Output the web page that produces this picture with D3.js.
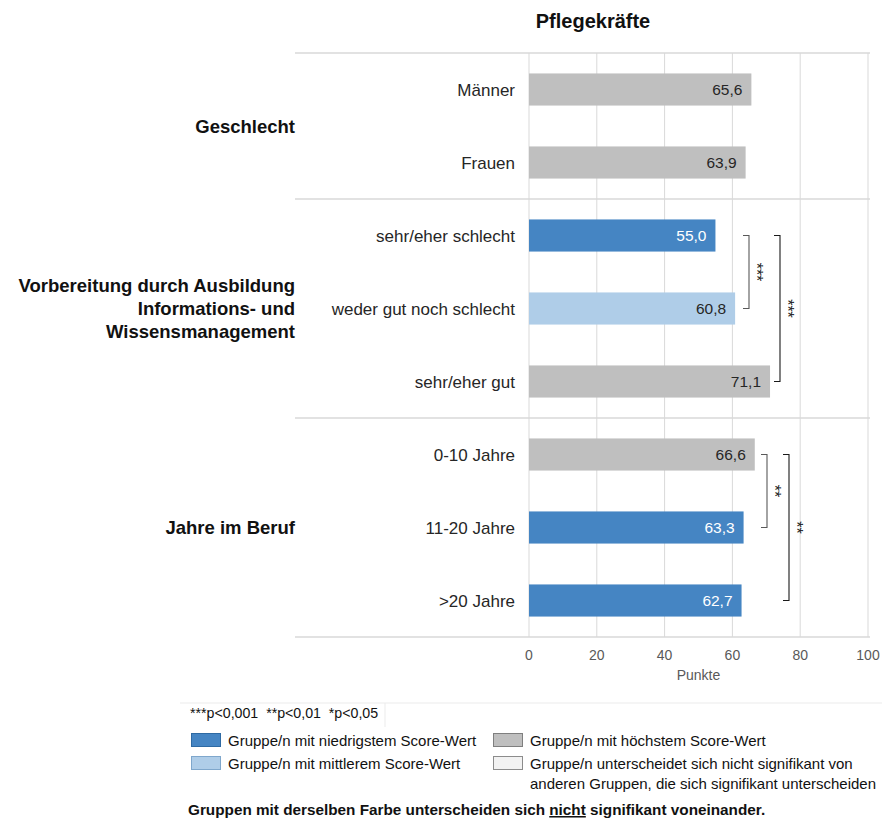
<!DOCTYPE html>
<html>
<head>
<meta charset="utf-8">
<script src="https://cdn.jsdelivr.net/npm/d3@7"></script>
<style>
  html, body { margin: 0; padding: 0; background: #fff; }
  svg { display: block; font-family: "Liberation Sans", Arial, sans-serif; }
  .pre { white-space: pre; }
</style>
</head>
<body>
<svg id="chart" width="882" height="823"></svg>
<script>
// ---- data ----
const title = "Pflegekräfte";
const categories = ["Männer", "Frauen", "sehr/eher schlecht", "weder gut noch schlecht",
                    "sehr/eher gut", "0-10 Jahre", "11-20 Jahre", ">20 Jahre"];
const values = [65.6, 63.9, 55.0, 60.8, 71.1, 66.6, 63.3, 62.7];
// colour class of each bar: low = lowest score group, mid = middle, high = highest
const classes = ["high", "high", "low", "mid", "high", "high", "low", "low"];
const groupLabels = [
  ["Geschlecht"],
  ["Vorbereitung durch Ausbildung", "Informations- und", "Wissensmanagement"],
  ["Jahre im Beruf"]
];
const groupSizes = [2, 3, 3];
// significance brackets: first row index, last row index, stars
const bracketFrom = [2, 2, 5, 5];
const bracketTo = [3, 4, 6, 7];
const bracketStars = ["***", "***", "**", "**"];
const xTicks = [0, 20, 40, 60, 80, 100];
const xLabel = "Punkte";
const pNote = "***p<0,001  **p<0,01  *p<0,05";
const legendLabels = {
  low: ["Gruppe/n mit niedrigstem Score-Wert"],
  high: ["Gruppe/n mit höchstem Score-Wert"],
  mid: ["Gruppe/n mit mittlerem Score-Wert"],
  ns: ["Gruppe/n unterscheidet sich nicht signifikant von", "anderen Gruppen, die sich signifikant unterscheiden"]
};

// ---- styles / layout ----
const fill = { low: "#4585c3", mid: "#afcde8", high: "#bfbfbf", ns: "#f2f2f2" };
const stroke = { low: "#2e6aa3", mid: "#7fa7cc", high: "#7f7f7f", ns: "#8c8c8c" };
const textFill = { low: "#ffffff", mid: "#262626", high: "#262626", ns: "#262626" };
const bracketX = [749, 780, 767, 789];   // pixel column of each bracket
const bracketColor = ["#595959", "#1a1a1a", "#595959", "#1a1a1a"];

const svg = d3.select("#chart");
const plotLeft = 529, plotRight = 868, plotTop = 53, plotBottom = 637, lineStart = 295;

const x = d3.scaleLinear().domain([0, 100]).range([plotLeft, plotRight]);
const y = d3.scaleBand().domain(d3.range(categories.length)).range([plotTop, plotBottom])
  .paddingInner(0.56).paddingOuter(0.28);

// title
svg.append("text").attr("x", 593).attr("y", 28).attr("text-anchor", "middle")
  .attr("font-size", 20).attr("font-weight", "bold").attr("fill", "#111").text(title);

// vertical grid lines
svg.append("g").selectAll("line").data(xTicks).join("line")
  .attr("x1", d => x(d)).attr("x2", d => x(d))
  .attr("y1", plotTop).attr("y2", plotBottom)
  .attr("stroke", "#d9d9d9").attr("stroke-width", 1);

// group separator lines
const bounds = [0];
groupSizes.forEach(s => bounds.push(bounds[bounds.length - 1] + s));
const step = y.step();
const rowEdge = i => plotTop + i * step;
svg.append("g").selectAll("line").data(bounds).join("line")
  .attr("x1", lineStart).attr("x2", plotRight + 2)
  .attr("y1", d => rowEdge(d)).attr("y2", d => rowEdge(d))
  .attr("stroke", "#d9d9d9").attr("stroke-width", 1.6);

// bars
const bars = svg.append("g");
bars.selectAll("rect").data(values).join("rect")
  .attr("x", x(0)).attr("y", (d, i) => y(i))
  .attr("width", d => x(d) - x(0)).attr("height", y.bandwidth())
  .attr("fill", (d, i) => fill[classes[i]]);

// value labels
bars.selectAll("text").data(values).join("text")
  .attr("x", d => x(d) - 9).attr("y", (d, i) => y(i) + y.bandwidth() / 2)
  .attr("dy", "0.36em").attr("text-anchor", "end").attr("font-size", 15.5)
  .attr("fill", (d, i) => textFill[classes[i]])
  .text(d => d3.format(".1f")(d).replace(".", ","));

// category labels
svg.append("g").selectAll("text").data(categories).join("text")
  .attr("x", 515).attr("y", (d, i) => y(i) + y.bandwidth() / 2)
  .attr("dy", "0.36em").attr("text-anchor", "end").attr("font-size", 17)
  .attr("fill", "#262626").text(d => d);

// group labels
groupLabels.forEach((lines, g) => {
  const cy = (rowEdge(bounds[g]) + rowEdge(bounds[g + 1])) / 2;
  const lh = 23;
  const t = svg.append("text").attr("text-anchor", "end").attr("font-size", 18.5)
    .attr("font-weight", "bold").attr("fill", "#111");
  lines.forEach((l, k) => {
    t.append("tspan").attr("x", 295)
      .attr("y", cy + (k - (lines.length - 1) / 2) * lh).attr("dy", "0.36em").text(l);
  });
});

// significance brackets
const cyRow = i => y(i) + y.bandwidth() / 2;
bracketFrom.forEach((f, b) => {
  const bx = bracketX[b], y1 = cyRow(f), y2 = cyRow(bracketTo[b]);
  svg.append("path")
    .attr("d", `M${bx - 6},${y1}H${bx}V${y2}H${bx - 6}`)
    .attr("fill", "none").attr("stroke", bracketColor[b]).attr("stroke-width", 1.1);
  svg.append("text")
    .attr("transform", `translate(${bx + 2},${(y1 + y2) / 2}) rotate(90)`)
    .attr("text-anchor", "middle").attr("font-size", 16).attr("fill", "#222")
    .text(bracketStars[b]);
});

// x axis labels
svg.append("g").selectAll("text").data(xTicks).join("text")
  .attr("x", d => x(d)).attr("y", 660).attr("text-anchor", "middle")
  .attr("font-size", 14).attr("fill", "#595959").text(d => d);
svg.append("text").attr("x", x(50)).attr("y", 680).attr("text-anchor", "middle")
  .attr("font-size", 14).attr("fill", "#595959").text(xLabel);

// ---- legend ----
const lg = svg.append("g");
lg.append("line").attr("x1", 180).attr("x2", 882).attr("y1", 703).attr("y2", 703)
  .attr("stroke", "#ebebeb").attr("stroke-width", 1);
lg.append("line").attr("x1", 385).attr("x2", 385).attr("y1", 703).attr("y2", 727)
  .attr("stroke", "#ebebeb").attr("stroke-width", 1);
lg.append("text").attr("class", "pre").attr("x", 190).attr("y", 718)
  .attr("font-size", 14.2).attr("fill", "#111").text(pNote);

const legendItems = [
  { key: "low", sx: 191, sy: 733 },
  { key: "high", sx: 493, sy: 733 },
  { key: "mid", sx: 191, sy: 756 },
  { key: "ns", sx: 493, sy: 756 }
];
legendItems.forEach(it => {
  lg.append("rect").attr("x", it.sx + 0.5).attr("y", it.sy + 0.5).attr("width", 29).attr("height", 13)
    .attr("fill", fill[it.key]).attr("stroke", stroke[it.key]).attr("stroke-width", 1);
  legendLabels[it.key].forEach((l, k) => {
    lg.append("text").attr("x", it.sx + 37).attr("y", it.sy + 13 + k * 20)
      .attr("font-size", 15).attr("fill", "#111").text(l);
  });
});

const note = lg.append("text").attr("class", "pre").attr("x", 188).attr("y", 815).attr("font-size", 15.3)
  .attr("font-weight", "bold").attr("fill", "#111");
note.append("tspan").text("Gruppen mit derselben Farbe unterscheiden sich ");
note.append("tspan").attr("text-decoration", "underline").text("nicht");
note.append("tspan").text(" signifikant voneinander.");
</script>
</body>
</html>
